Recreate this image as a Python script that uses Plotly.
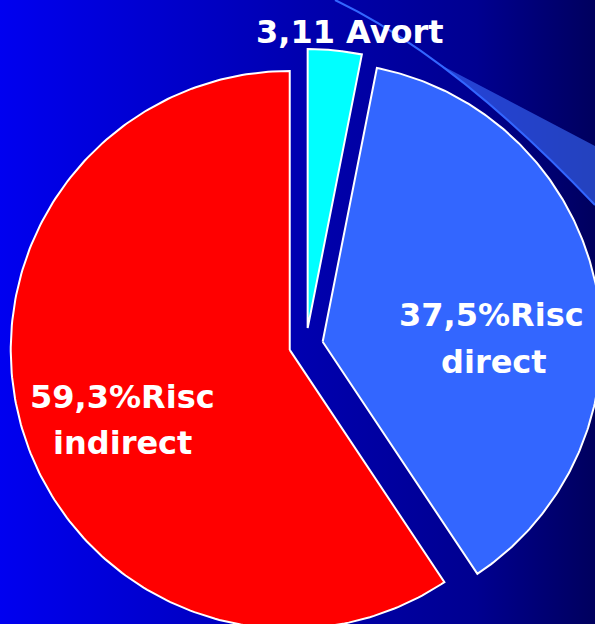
import numpy as np
import plotly.graph_objects as go

# ---- data ----
categories = ["Avort", "Risc direct", "Risc indirect"]
values = [3.11, 37.5, 59.3]
label_lines = [["3,11 Avort"], ["37,5%Risc", "direct"], ["59,3%Risc", "indirect"]]
slice_colors = ["#00FFFF", "#3366FF", "#FF0000"]

# ---- geometry / style ----
W, H = 595, 624
CX, CY, R = 306, 345, 279   # pie centre and radius in pixel units
PULL = 17                   # explosion distance
label_pos = [[(350, 32)], [(491, 315), (494, 362)], [(122, 397), (122, 443)]]

fig = go.Figure()

# background gradient
fig.add_trace(go.Scatter(
    x=[0, W, W, 0, 0], y=[0, 0, H, H, 0], mode="none", fill="toself",
    fillgradient=dict(type="horizontal", start=0, stop=W,
                      colorscale=[[0, "#0000F0"], [0.5, "#0000B0"],
                                  [0.8, "#000090"], [1, "#00005E"]]),
    hoverinfo="skip", showlegend=False))

total = sum(values)
start = 0.0
for cat, v, col in zip(categories, values, slice_colors):
    span = 360.0 * v / total
    th = np.radians(np.linspace(start, start + span, 240))
    mid = np.radians(start + span / 2)
    ox = CX + PULL * np.sin(mid)
    oy = CY - PULL * np.cos(mid)
    xs = np.concatenate([[ox], ox + R * np.sin(th), [ox]])
    ys = np.concatenate([[oy], oy - R * np.cos(th), [oy]])
    fig.add_trace(go.Scatter(
        x=xs, y=ys, mode="lines", fill="toself", fillcolor=col,
        line=dict(color="white", width=2), name=cat,
        hoverinfo="skip", showlegend=False))
    start += span

# labels
for lines, poss in zip(label_lines, label_pos):
    for txt, (px, py) in zip(lines, poss):
        fig.add_annotation(
            x=px, y=py, xref="x", yref="y", text=txt, showarrow=False,
            xanchor="center", yanchor="middle",
            font=dict(family="DejaVu Sans", size=32, color="white", weight="bold"))

# template decoration (top-right swoosh)
fig.add_shape(type="path", xref="x", yref="y", layer="above",
              path="M 439.4,64.2 L 595,146 L 595,205 Q 513.8,119.5 439.4,64.2 Z",
              fillcolor="rgba(60,110,255,0.6)", line=dict(width=0))
fig.add_shape(type="path", xref="x", yref="y", layer="above",
              path="M 335,0 Q 455,57.5 595,205",
              line=dict(color="#3366FF", width=2))

fig.update_xaxes(range=[0, W], visible=False, fixedrange=True)
fig.update_yaxes(range=[H, 0], visible=False, fixedrange=True)
fig.update_layout(
    width=W, height=H, margin=dict(l=0, r=0, t=0, b=0),
    paper_bgcolor="#0000B0", plot_bgcolor="#0000B0", showlegend=False)

fig.write_html(
    "out.html", config={"displayModeBar": False},
    post_script="document.body.style.margin='0';document.body.style.overflow='hidden';")
